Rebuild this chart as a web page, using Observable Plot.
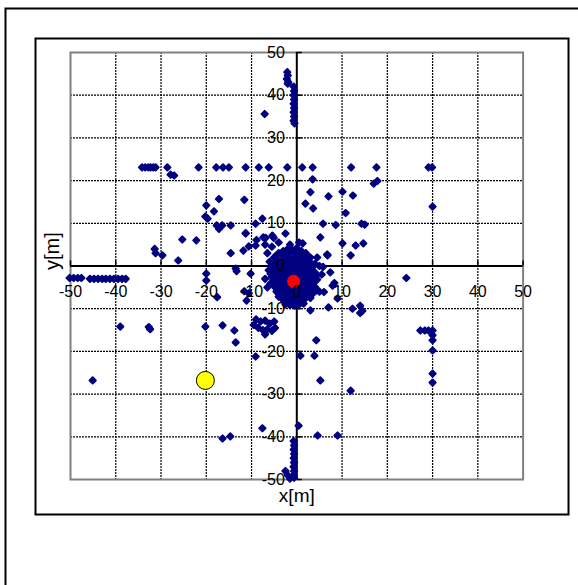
<!DOCTYPE html>
<html><head><meta charset="utf-8">
<script src="https://cdn.jsdelivr.net/npm/d3@7"></script>
<script src="https://cdn.jsdelivr.net/npm/@observablehq/plot@0.6"></script>
<style>body{margin:0;background:#fff;} svg{display:block}</style>
</head><body><div id="chart"></div>
<script>
const xTicks = [-50,-40,-30,-20,-10,0,10,20,30,40,50];
const yTicks = [-50,-40,-30,-20,-10,0,10,20,30,40,50];
const gridTicks = [-40,-30,-20,-10,10,20,30,40];

// dense cloud around the origin
const ptsCore = [
[-5,2],[-4,3],[-3,3.5],[-2,4],[-1,3.8],[0,4.2],[1,3.5],[2,3],[3,2],
[-6,1],[-5,0.5],[-4,1.2],[-3,1.5],[-2,2],[-1,1.5],[0,2],[1,1.8],[2,1.2],[3,0.8],[4,0.5],
[-6.2,-1],[-5,-0.8],[-4,-0.5],[-3,-0.2],[-2,0],[-1,-0.5],[0,0],[1,-0.3],[2,-0.6],[3,-1],[4,-1.5],
[-5.5,-2.5],[-4.5,-2],[-3.5,-2.2],[-2.5,-1.8],[-1.5,-2.5],[0.5,-2],[1.5,-2.2],[2.5,-2.5],[3.5,-3],[4.5,-3.2],
[-5,-4],[-4,-4.5],[-3,-4],[-2,-4.2],[-1,-4.5],[0,-4.8],[1,-4.3],[2,-4],[3,-4.5],[4,-5],
[-4.5,-6],[-3.5,-6.5],[-2.5,-6],[-1.5,-6.2],[-0.5,-6.8],[0.5,-6.5],[1.5,-6],[2.5,-6.8],[3.5,-6.5],
[-3,-8],[-2,-7.8],[-1,-8.5],[0,-8],[1,-8.2],[2,-7.5],
[-6.5,3],[-7,5],[-5.5,4.5],[4.5,2],[5,0],[5.5,-2],[-7,-3],[-6.5,-5],[5,-6],[-1.5,5],[0.5,5.5],[-4,5.5]
];
const ptsCoreFill = [
[-4.5,2.5],[-3.5,2.8],[-2.5,3],[-1.5,3],[-0.5,3],[0.5,3],[1.5,2.5],[2.5,1.5],
[-5.5,0],[-4.5,0.3],[-3.5,0.5],[-2.5,0.8],[-1.5,0.5],[-0.5,0.8],[0.5,0.8],[1.5,0.5],[2.5,0],[3.5,-0.2],
[-5.8,-1.8],[-4.8,-1.5],[-3.8,-1.2],[-2.8,-1],[-1.8,-1.2],[-0.8,-1.5],[0.2,-1.2],[1.2,-1.4],[2.2,-1.6],[3.2,-2],[4.2,-2.4],
[-5.2,-3.2],[-4.2,-3.2],[-3.2,-3],[-2.2,-3.2],[-1.2,-3.4],[-0.2,-3.2],[0.8,-3.2],[1.8,-3.2],[2.8,-3.4],[3.8,-3.8],
[-4.8,-5],[-3.8,-5.2],[-2.8,-5.2],[-1.8,-5.3],[-0.8,-5.5],[0.2,-5.6],[1.2,-5.4],[2.2,-5.2],[3.2,-5.5],[4.2,-5.8],
[-4,-7.2],[-3,-7],[-2,-7],[-1,-7.2],[0,-7.2],[1,-7.2],[2,-6.8],[3,-7.5],
[-2.5,-9],[-1.5,-9.2],[-0.5,-9.3],[0.5,-9],[1.5,-8.8]
];
const ptsNear = [
[-13.5,-0.6],[-11.3,7.6],[-11.8,3.6],[-9.1,4.8],[-7.4,6.7],[-5.4,7.1],[-2.5,7.6],[1.3,5.3],[5.2,6.7],
[6.8,2.5],[10.1,5.3],[13,4.8],[7.4,-1.5],[7.9,-4.6],[9,-7.6],[3,-10.4],[-0.3,-8.1],[-5.8,-4.1],[-10.2,-1.8],
[6.7,2.7],[11.9,2.5],[5.8,-0.2],[8.3,-4],[3.8,-3.4],[4.1,-5],[6,-6.1],
[-9,-12.5],[-8,-13],[-7,-12.8],[-6,-13.5],[-5,-13],[-8.5,-14.5],[-7.5,-15],[-6.5,-14.8],[-5.5,-15.2],[-9.5,-13.8],[-4.8,-14.5],[-7,-16]
];
const ptsUpper = [
[-2.1,45.4],[-2.0,44.6],[-2.2,43.8],[-1.9,43.1],[-2.0,42.7],
[-0.7,42],[-0.6,41],[-0.7,40],[-0.6,39],[-0.7,38],[-0.6,37],[-0.7,36],[-0.6,35],[-0.7,34],[-0.5,33.4],
[-7.1,35.6],
[-34.2,23.1],[-33.5,23.1],[-32.8,23.1],[-32.3,23.1],[-31.7,23.1],[-31.2,23.1],[-28.6,23.1],[-21.7,23.1],
[-17.8,23.1],[-16.3,23.1],[-15,23.1],[-11.3,23.1],[-8.4,23.1],[-6.2,23.1],[-2.1,23.1],[1.2,23.1],[3.5,23.1],
[12,23.1],[17.6,23.1],[29.1,23.1],[29.9,23.1],
[-27.9,21.4],[-27.1,21.2],
[-17.2,15.7],[-20,14.2],[-18.3,12.8],[-20.2,11.6],[-19.7,11.1],[-11.6,15.5],[-17.7,9.5],[-16.5,9.5],[-14.6,9.5],
[-17.2,8.7],[-11.3,7.7],[-9.1,9.9],[-7.6,11.1],[-25.3,6.2],[-22.2,6],[-8.9,6.1],[-6.9,6.6],[-5.1,6.6],[-31.4,4],[-10.6,4.6],
[3.5,20.3],[17.8,19.9],[17,19.3],[3,17.3],[7,16.3],[10.1,17.4],[12.4,16.5],[1.9,14.6],[3.6,13.5],[10.8,12.4],
[30,13.9],[5.8,9.9],[8.6,9.6],[14.3,9.9],[15,9.7],[14.7,5.3]
];
const ptsLower = [
[-31.2,3],[-29.7,2.5],[-26.2,1.3],[-20,-1.8],[-20,-3.4],[-14.6,3],[-13.3,-1.2],[-11.6,-5.9],[-10.6,-6.4],[-17.6,-7.3],
[-50.2,-2.8],[-49.3,-2.8],[-48.4,-2.8],[-47.6,-2.8],[-45.7,-3],[-44.8,-3],[-43.9,-3],[-43,-3],[-42.2,-3],
[-41.3,-3],[-40.4,-3],[-39.5,-3],[-38.6,-3],[-37.8,-3],
[24.2,-2.8],
[27.3,-15.1],[28.3,-15.1],[29.1,-15.1],[30,-15.1],[30,-16.2],[30,-17.4],[30,-19.8],[30,-25.2],[30,-27.3],
[12.3,-10],[14,-9.3],[14.5,-10.5],[14,-11],[7,-9.7],[5.2,-26.8],[11.9,-29.2],[9,-39.7],[4.6,-39.7],[0.4,-37.4],
[3.9,-21],[0.8,-21],[4.3,-17.4],
[-39,-14.2],[-32.7,-14.3],[-32.4,-14.8],[-20.2,-14.2],[-16.4,-13.9],[-13.5,-17.9],[-9.1,-21.2],[-11.1,-8.1],
[-13.8,-15.1],[-16.4,-40.4],[-14.7,-39.9],[-7.6,-38],[-45.1,-26.8],
[-0.7,-41],[-0.6,-42],[-0.7,-43],[-0.6,-44],[-0.7,-45],[-0.6,-46],[-0.7,-47],[-0.6,-48],[-0.7,-49],[-0.6,-49.6],
[-2.5,-48],[-2,-49],[-1.5,-49.8]
];
const redPoint = [[-0.7,-3.6]];
const yellowPoint = [[-20.2,-26.8]];

const allBlue = [...ptsUpper, ...ptsLower, ...ptsNear, ...ptsCore, ...ptsCoreFill];

const chart = Plot.plot({
  width: 578, height: 585,
  marginLeft: 70, marginRight: 55.4, marginTop: 52, marginBottom: 106,
  style: {fontFamily: "'Liberation Sans', Arial, sans-serif", background: "white", overflow: "visible"},
  x: {domain: [-50, 50], axis: null},
  y: {domain: [-50, 50], axis: null},
  marks: [
    Plot.ruleX(gridTicks, {stroke: "black", strokeWidth: 1.2, strokeDasharray: "2,1"}),
    Plot.ruleY(gridTicks, {stroke: "black", strokeWidth: 1.2, strokeDasharray: "2,1"}),
    Plot.frame({stroke: "#808080", strokeWidth: 2}),
    Plot.ruleY([0], {stroke: "black", strokeWidth: 2}),
    Plot.ruleX([0], {stroke: "black", strokeWidth: 2}),
    Plot.ruleY(yTicks, {x1: 0, x2: 1.2, stroke: "black", strokeWidth: 1.5}),
    Plot.ruleX(xTicks, {y1: 0, y2: 1.2, stroke: "black", strokeWidth: 1.5}),
    Plot.dot(allBlue, {x: d => d[0], y: d => d[1], symbol: "diamond2", r: 2.8, fill: "#000080",
      stroke: "#000080", strokeWidth: 2, strokeLinejoin: "round"}),
    Plot.dot(redPoint, {x: d => d[0], y: d => d[1], r: 6.5, fill: "#ff0000"}),
    Plot.dot(yellowPoint, {x: d => d[0], y: d => d[1], r: 9, fill: "#ffff00", stroke: "black", strokeWidth: 1}),
    Plot.text(xTicks, {x: d => d, y: 0, dy: 26, text: d => String(d), fontSize: 16, fill: "black"}),
    Plot.text(yTicks, {x: 0, y: d => d, dx: -12, text: d => String(d), textAnchor: "end", fontSize: 16, fill: "black"}),
    Plot.text(["y[m]"], {frameAnchor: "left", dx: -18, dy: 4, rotate: -90, fontSize: 20, fill: "black"}),
    Plot.text(["x[m]"], {frameAnchor: "bottom", dy: 22, fontSize: 19, fill: "black"})
  ]
});
document.getElementById("chart").appendChild(chart);
const svg = d3.select(chart);
svg.insert("rect", ":first-child").attr("x", 35.5).attr("y", 38.5).attr("width", 533).attr("height", 476)
  .attr("fill", "none").attr("stroke", "black").attr("stroke-width", 2);
svg.insert("rect", ":first-child").attr("x", 5.5).attr("y", 8.5).attr("width", 620).attr("height", 620)
  .attr("fill", "none").attr("stroke", "black").attr("stroke-width", 2);
</script>
</body></html>
